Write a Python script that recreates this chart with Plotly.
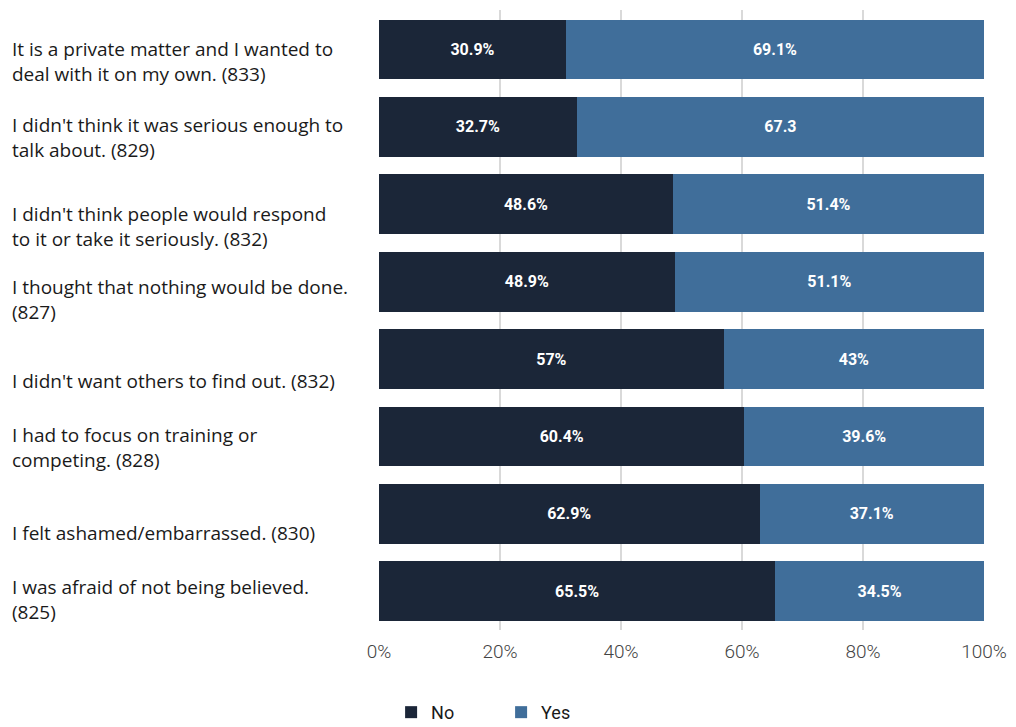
import plotly.graph_objects as go

reasons = [
    "It is a private matter and I wanted to<br>deal with it on my own. (833)",
    "I didn't think it was serious enough to<br>talk about. (829)",
    "I didn't think people would respond<br>to it or take it seriously. (832)",
    "I thought that nothing would be done.<br>(827)",
    "I didn't want others to find out. (832)",
    "I had to focus on training or<br>competing. (828)",
    "I felt ashamed/embarrassed. (830)",
    "I was afraid of not being believed.<br>(825)",
]
no_values = [30.9, 32.7, 48.6, 48.9, 57, 60.4, 62.9, 65.5]
yes_values = [69.1, 67.3, 51.4, 51.1, 43, 39.6, 37.1, 34.5]
no_labels = ["30.9%", "32.7%", "48.6%", "48.9%", "57%", "60.4%", "62.9%", "65.5%"]
yes_labels = ["69.1%", "67.3", "51.4%", "51.1%", "43%", "39.6%", "37.1%", "34.5%"]
x_ticks = [0, 20, 40, 60, 80, 100]
x_tick_text = ["0%", "20%", "40%", "60%", "80%", "100%"]

NO_COLOR = "#1b2638"
YES_COLOR = "#406e9a"
FONT = "Roboto, 'DejaVu Sans', sans-serif"
LABEL_FONT = "'Open Sans', Roboto, sans-serif"

# vertical nudge (px, downward) of each category label against its bar
label_drop = [12, 11, 22, 18, 22, 11, 19, 8]

fig = go.Figure()
for name, vals, labels, color in [
    ("No", no_values, no_labels, NO_COLOR),
    ("Yes", yes_values, yes_labels, YES_COLOR),
]:
    fig.add_trace(go.Bar(
        name=name, y=reasons, x=vals, orientation="h",
        marker=dict(color=color, line=dict(width=0)),
        text=labels, textposition="inside", insidetextanchor="middle",
        textfont=dict(color="white", size=16, family=FONT, weight="bold"),
        hoverinfo="skip",
    ))

# Category labels, left-aligned in the margin
for r, drop in zip(reasons, label_drop):
    fig.add_annotation(
        x=-369 / 605, xref="paper", y=r, yref="y", yshift=-drop,
        text=r, showarrow=False, xanchor="left", align="left",
        font=dict(size=19, color="#1a1a1a", family=LABEL_FONT),
    )

fig.update_layout(
    barmode="stack",
    bargap=0.225,
    width=1016, height=727,
    margin=dict(l=379, r=32, t=10, b=97, autoexpand=False),
    plot_bgcolor="white", paper_bgcolor="white",
    font=dict(family=FONT),
    uniformtext=dict(mode="show", minsize=10),
    xaxis=dict(
        range=[0, 100], tickvals=x_ticks, ticktext=x_tick_text,
        showgrid=True, gridcolor="#d9d9d9", gridwidth=2,
        zeroline=False, ticks="outside", ticklen=4, tickcolor="rgba(0,0,0,0)",
        tickfont=dict(size=19, color="#444444", family=FONT, weight=300),
        fixedrange=True,
    ),
    yaxis=dict(
        autorange="reversed", showticklabels=False, showgrid=False,
        zeroline=False, fixedrange=True,
    ),
    legend=dict(
        orientation="h", x=0.02, xanchor="left", y=-0.133, yanchor="middle",
        font=dict(size=18, color="#1a1a1a", family=FONT),
        entrywidth=65, entrywidthmode="pixels", itemwidth=30,
        traceorder="normal",
    ),
    showlegend=True,
)

fig.write_html("out.html")
